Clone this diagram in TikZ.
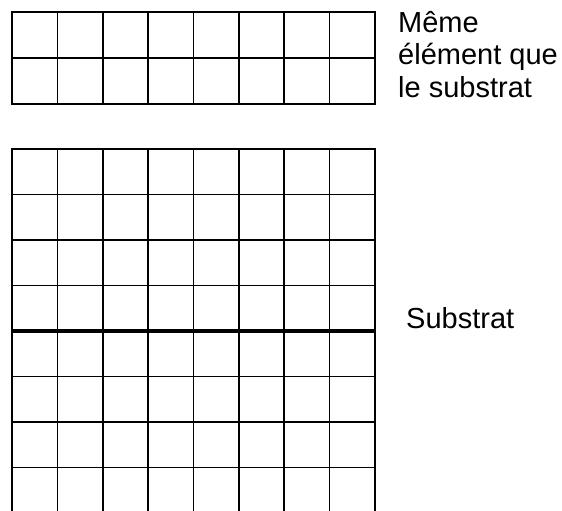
\documentclass[tikz,border=0pt]{standalone}
\usepackage{fontspec}
\setmainfont{Liberation Sans}
\begin{document}
\begin{tikzpicture}[x=1pt,y=1pt,
  gridline/.style={line width=1.7pt, line cap=rect},
  boldline/.style={line width=3.2pt},
  lbl/.style={anchor=base west, inner sep=0pt, font=\fontsize{29}{32}\selectfont}]
\useasboundingbox (0,0) rectangle (562,511);
% top grid (2 rows x 8 columns)
\foreach \i in {0,...,8} {
  \draw[gridline] ({12+\i*45.375},407) -- ({12+\i*45.375},499);
}
\foreach \y in {407,453,499} {
  \draw[gridline] (12,\y) -- (375,\y);
}
% bottom grid (substrate), open at bottom
\foreach \i in {0,...,8} {
  \draw[line width=1.7pt] ({12+\i*45.375},0) -- ({12+\i*45.375},362);
}
\foreach \j in {0,1,2,3,5,6,7} {
  \draw[gridline] (12,{362-\j*45.5}) -- (375,{362-\j*45.5});
}
\draw[boldline] (12,180) -- (375,180);
% labels
\node[lbl] (l1) at (398,478) {Même};
\node[lbl] (l2) at (398,446) {élément que};
\node[lbl] (l3) at (398,413) {le substrat};
\node[lbl] (sub) at (406,182) {Substrat};
\end{tikzpicture}
\end{document}
